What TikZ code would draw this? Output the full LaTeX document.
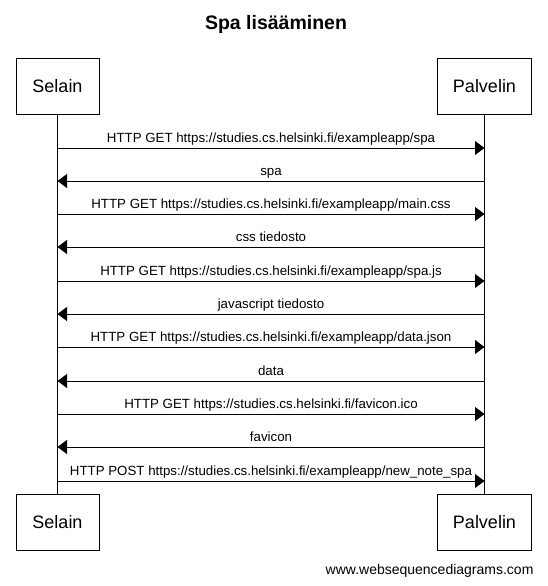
\documentclass[tikz,border=0pt]{standalone}
\usepackage{fontspec}
\setmainfont{Liberation Sans}
\usetikzlibrary{arrows.meta,calc}
\begin{document}
\begin{tikzpicture}[x=1pt,y=-1pt,
  actor/.style={draw,line width=0.8pt,minimum width=83pt,minimum height=56.5pt,inner sep=0pt,font=\fontsize{18}{21}\selectfont},
  msg/.style={line width=0.8pt,-{Triangle[length=9.5pt,width=14pt]}},
  lbl/.style={font=\fontsize{13.3}{15}\selectfont,inner sep=0pt,anchor=base},
  life/.style={line width=0.8pt}]
\useasboundingbox (0,0) rectangle (547,586);
\node[font=\bfseries\fontsize{19.5}{22}\selectfont] (title) at (276,24) {Spa lisääminen};
\node[actor] (s1) at (57.5,86.5) {Selain};
\node[actor,minimum width=94pt] (p1) at (484.5,86.5) {Palvelin};
\node[actor] (s2) at (57.5,522.5) {Selain};
\node[actor,minimum width=94pt] (p2) at (484.5,522.5) {Palvelin};
\draw[life] (s1.south) -- (s2.north);
\draw[life] (p1.south) -- (p2.north);
\foreach \y/\dir/\t [count=\i] in {
 148/r/{HTTP GET https://studies.cs.helsinki.fi/exampleapp/spa},
 181/l/{spa},
 214/r/{HTTP GET https://studies.cs.helsinki.fi/exampleapp/main.css},
 247/l/{css tiedosto},
 281/r/{HTTP GET https://studies.cs.helsinki.fi/exampleapp/spa.js},
 314/l/{javascript tiedosto},
 347/r/{HTTP GET https://studies.cs.helsinki.fi/exampleapp/data.json},
 381/l/{data},
 414/r/{HTTP GET https://studies.cs.helsinki.fi/favicon.ico},
 447/l/{favicon},
 481/r/{HTTP POST https://studies.cs.helsinki.fi/exampleapp/new\_note\_spa}} {
  \coordinate (a\i) at (s1.south |- 0,\y);
  \coordinate (b\i) at (p1.south |- 0,\y);
  \if r\dir
    \draw[msg] (a\i) -- (b\i);
  \else
    \draw[msg] (b\i) -- (a\i);
  \fi
  \node[lbl] (t\i) at ($(a\i)!0.5!(b\i)+(0,-6)$) {\t};
}
\node[font=\fontsize{14}{16}\selectfont,anchor=east] (foot) at (537,571) {www.websequencediagrams.com};
\end{tikzpicture}
\end{document}
